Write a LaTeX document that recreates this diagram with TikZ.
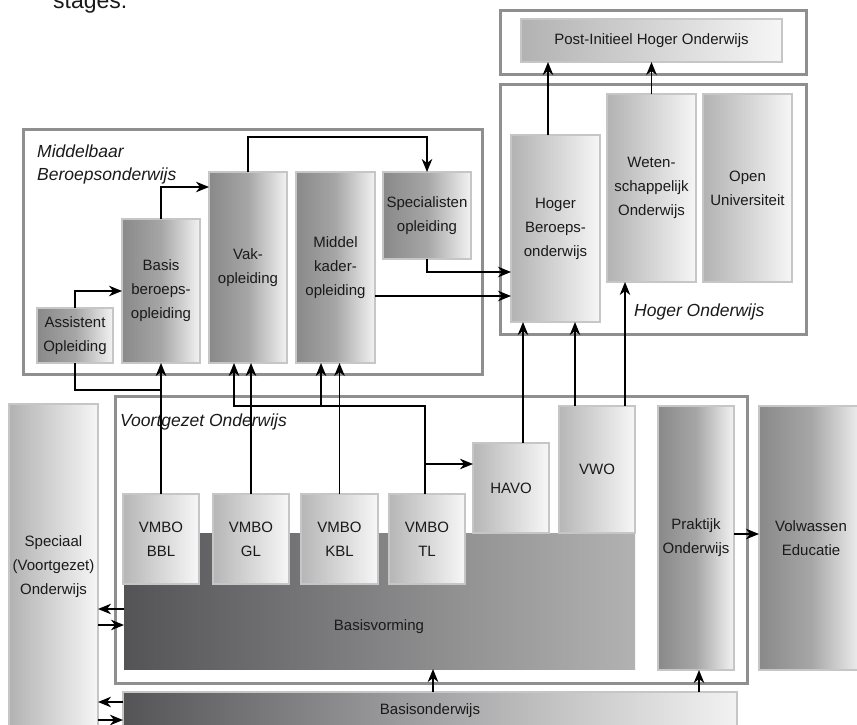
\documentclass[tikz,border=0pt]{standalone}
\usepackage{fontspec}
\setmainfont{Liberation Sans}
\usetikzlibrary{arrows.meta,calc}
\definecolor{frm}{HTML}{8F8F8F}
\definecolor{bxd}{HTML}{C6C6C6}
\definecolor{txtc}{HTML}{1A1A1A}
\definecolor{mA}{HTML}{898989}
\definecolor{mB}{HTML}{A6A6A6}
\definecolor{mC}{HTML}{F3F3F3}
\definecolor{hA}{HTML}{B2B2B2}
\definecolor{hB}{HTML}{F6F6F6}
\definecolor{vA}{HTML}{B6B6B6}
\definecolor{vB}{HTML}{F7F7F7}
\definecolor{dA}{HTML}{545457}
\definecolor{dB}{HTML}{B2B2B2}
\definecolor{dC}{HTML}{F2F2F2}
\begin{document}
\begin{tikzpicture}[x=1pt,y=-1pt,
  frame/.style={draw=frm, line width=3pt, inner sep=0pt, outer sep=0pt, anchor=north west},
  bx/.style={draw=bxd, line width=1.2pt, inner sep=0pt, outer sep=0pt, anchor=north west,
    align=center, text=txtc, font=\fontsize{15}{24}\selectfont},
  mbo/.style={bx, left color=mA, right color=mC, middle color=mB},
  hgo/.style={bx, left color=hA, right color=hB},
  vmb/.style={bx, left color=vA, right color=vB},
  dk/.style={bx, draw=none, left color=dA, right color=dB},
  dko/.style={bx, left color=dA, right color=dC},
  lbl/.style={font=\fontsize{17.5}{23}\selectfont\itshape, text=txtc, inner sep=0pt, anchor=base west},
  txt/.style={font=\fontsize{15}{24}\selectfont, text=txtc, inner sep=0pt},
  ln/.style={line width=1.7pt, black},
  arr/.style={ln, -{Stealth[length=13pt,width=10.5pt,inset=4pt]}}]
\useasboundingbox (0,0) rectangle (857,725);

% caption fragment
\node[font=\fontsize{23}{26}\selectfont, text=txtc, inner sep=0pt, anchor=base west] (cap) at (53,9) {stages.};

% frames
\node[frame, minimum width=306pt, minimum height=64pt] (postframe) at (500,11) {};
\node[frame, minimum width=306pt, minimum height=249pt] (hoframe) at (500,85) {};
\node[frame, minimum width=459pt, minimum height=245pt] (mboframe) at (23,129) {};
\node[frame, minimum width=632pt, minimum height=287pt] (voframe) at (115,396) {};

% labels
\node[lbl] (lmbo1) at (37,157) {Middelbaar};
\node[lbl] (lmbo2) at (37,180) {Beroepsonderwijs};
\node[lbl] (lho) at (634,316) {Hoger Onderwijs};
\node[lbl] (lvo) at (120,426) {Voortgezet Onderwijs};

% hoger onderwijs
\node[hgo, minimum width=261pt, minimum height=43pt] (post) at (521,19) {Post-Initieel Hoger Onderwijs};
\node[hgo, minimum width=89pt, minimum height=187pt] (hbo) at (511,135) {Hoger\\Beroeps-\\onderwijs};
\node[hgo, minimum width=89pt, minimum height=188pt] (wo) at (607,94) {Weten-\\schappelijk\\Onderwijs};
\node[hgo, minimum width=89pt, minimum height=188pt] (ou) at (703,94) {Open\\Universiteit};

% mbo
\node[mbo, minimum width=76pt, minimum height=55pt] (assist) at (37,308) {Assistent\\Opleiding};
\node[mbo, minimum width=78pt, minimum height=144pt] (basis) at (122,219) {Basis\\beroeps-\\opleiding};
\node[mbo, minimum width=78pt, minimum height=191pt] (vak) at (209,172) {Vak-\\opleiding};
\node[mbo, minimum width=79pt, minimum height=191pt] (middel) at (296,172) {Middel\\kader-\\opleiding};
\node[mbo, minimum width=88pt, minimum height=87pt] (spec) at (383,172) {Specialisten\\opleiding};

% voortgezet onderwijs
\node[dk, minimum width=511pt, minimum height=136pt] (basisv) at (124,533) {};
\node[txt] (basisvt) at (379,627) {Basisvorming};
\node[vmb, minimum width=76pt, minimum height=90pt] (bbl) at (123,494) {VMBO\\BBL};
\node[vmb, minimum width=76pt, minimum height=90pt] (gl) at (213,494) {VMBO\\GL};
\node[vmb, minimum width=77pt, minimum height=90pt] (kbl) at (301,494) {VMBO\\KBL};
\node[vmb, minimum width=76pt, minimum height=90pt] (tl) at (389,494) {VMBO\\TL};
\node[vmb, minimum width=76pt, minimum height=90pt] (havo) at (473,443) {HAVO};
\node[vmb, minimum width=76pt, minimum height=127pt] (vwo) at (559,406) {VWO};
\node[mbo, minimum width=76pt, minimum height=264pt] (prak) at (658,406) {Praktijk\\Onderwijs};
\node[mbo, minimum width=104pt, minimum height=264pt] (volw) at (759,406) {Volwassen\\Educatie};

% others
\node[hgo, minimum width=89pt, minimum height=326pt] (speciaal) at (9,404) {Speciaal\\(Voortgezet)\\Onderwijs};
\node[dko, minimum width=614pt, minimum height=38pt] (basiso) at (123,692) {Basisonderwijs};

% row coordinates
\coordinate (yA) at (0,390);
\coordinate (yB) at (0,406);
\coordinate (yC) at (0,464);
\coordinate (yD) at (0,291);
\coordinate (yE) at (0,187);
\coordinate (yF) at (0,137);
\coordinate (yG) at (0,272);
\coordinate (yH) at (0,296);
\coordinate (yI) at (0,534);
\coordinate (yJ) at (0,609);
\coordinate (yK) at (0,625);
\coordinate (yL) at (0,702);
\coordinate (yM) at (0,720);

% connectors
\coordinate (pA) at ([xshift=-7.5pt]hbo.north);
\draw[arr] (pA) -- (pA |- post.south);
\draw[arr] (wo.north) -- (wo.north |- post.south);
\draw[arr] (assist.north) |- (basis.west |- yD);
\draw[arr] (basis.north) |- (vak.west |- yE);
\draw[arr] (vak.north) |- (spec.north |- yF) -- (spec.north);
\draw[arr] (spec.south) |- (hbo.west |- yG);
\draw[arr] (middel.east |- yH) -- (hbo.west |- yH);

\draw[arr] (bbl.north) -- (bbl.north |- basis.south);
\draw[ln] (assist.south) |- (bbl.north |- yA);
\draw[arr] (gl.north) -- (gl.north |- vak.south);
\draw[arr] (kbl.north) -- (kbl.north |- middel.south);
\coordinate (tlx) at ([xshift=-2pt]tl.north);
\coordinate (vkA) at ([xshift=-14pt]vak.south);
\coordinate (mdA) at ([xshift=-14.5pt]middel.south);
\draw[arr] (tlx) |- (vkA |- yB) -- (vkA);
\draw[arr] (mdA |- yB) -- (mdA);
\draw[arr] (tlx |- yC) -- (havo.west |- yC);
\coordinate (hvA) at ([xshift=12pt]havo.north);
\draw[arr] (hvA) -- (hvA |- hbo.south);
\coordinate (vwA) at ([xshift=-22pt]vwo.north);
\coordinate (vwB) at ([xshift=28pt]vwo.north);
\draw[arr] (vwA) -- (vwA |- hbo.south);
\draw[arr] (vwB) -- (vwB |- wo.south);
\draw[arr] (prak.east |- yI) -- (volw.west |- yI);
\draw[arr] (basisv.west |- yJ) -- (speciaal.east |- yJ);
\draw[arr] (speciaal.east |- yK) -- (basisv.west |- yK);
\draw[arr] (basiso.west |- yL) -- (speciaal.east |- yL);
\draw[arr] (speciaal.east |- yM) -- (basiso.west |- yM);
\coordinate (boA) at ([xshift=3pt]basiso.north);
\draw[arr] (boA) -- (boA |- basisv.south);
\coordinate (boB) at ([xshift=3pt]prak.south);
\draw[arr] (boB |- basiso.north) -- (boB);
\end{tikzpicture}
\end{document}
